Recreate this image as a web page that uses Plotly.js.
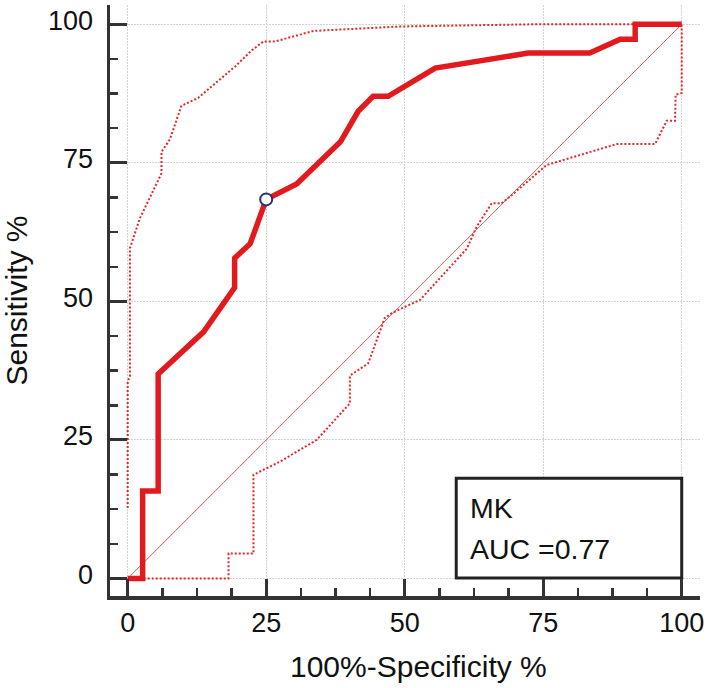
<!DOCTYPE html>
<html>
<head>
<meta charset="utf-8">
<script src="https://cdn.plot.ly/plotly-3.0.1.min.js"></script>
<style>
  html, body { margin: 0; padding: 0; background: #ffffff; }
  #chart { width: 712px; height: 688px; }
</style>
</head>
<body>
<div id="chart"></div>
<script>
// ROC curve (100 - specificity %, sensitivity %)
const rocX = [0, 2.7, 2.7, 5.5, 5.5, 13.7, 19.3, 19.3, 22.1, 25.0, 30.5, 38.4, 41.6, 44.3, 47.0, 55.5, 72.3, 83.4, 88.9, 91.6, 91.6, 100];
const rocY = [0, 0, 15.8, 15.8, 36.9, 44.5, 52.5, 57.8, 60.4, 68.4, 71.2, 78.8, 84.3, 87.0, 87.0, 92.1, 94.8, 94.8, 97.3, 97.3, 100, 100];

// Upper 95% confidence bound
const upperX = [0, 0, 0.4, 0.4, 2.2, 6.1, 6.1, 7.6, 9.7, 12.7, 19.4, 22.4, 24.5, 26.6, 33.5, 49.2, 73.2, 100];
const upperY = [12.7, 35.5, 36.5, 59.6, 65.0, 73.1, 77.0, 79.2, 85.3, 86.7, 92.4, 95.3, 96.9, 96.9, 98.8, 99.6, 100, 100];

// Lower 95% confidence bound
const lowerX = [0, 18.2, 18.2, 22.7, 22.7, 27.5, 34.1, 40.1, 40.1, 43.4, 46.4, 47.7, 52.8, 61.2, 63.0, 65.7, 67.5, 69.0, 75.6, 88.3, 95.2, 97.3, 98.8, 98.9, 100, 100];
const lowerY = [0, 0, 4.5, 4.5, 18.7, 21.1, 25.0, 31.6, 36.6, 38.8, 47.0, 47.9, 50.3, 59.5, 63.5, 67.7, 67.7, 68.9, 74.6, 78.4, 78.4, 82.6, 82.6, 87.3, 87.6, 100];

// Chance diagonal
const diagX = [0, 100];
const diagY = [0, 100];

// Optimal cut-off point
const cutX = [25.0];
const cutY = [68.4];

// Tick values
const tickVals = [0, 25, 50, 75, 100];
const tickText = ["0", "25", "50", "75", "100"];

// Legend box text
const boxLines = ["MK", "AUC =0.77"];

const FONT = "Liberation Sans, Arial, Helvetica, sans-serif";

const traces = [
  { x: diagX, y: diagY, mode: "lines", line: { color: "rgb(205,100,96)", width: 1 }, hoverinfo: "skip" },
  { x: upperX, y: upperY, mode: "lines", line: { color: "rgb(228,40,40)", width: 2, dash: "2px,2px" } },
  { x: lowerX, y: lowerY, mode: "lines", line: { color: "rgb(228,40,40)", width: 2, dash: "2px,2px" } },
  { x: rocX, y: rocY, mode: "lines", line: { color: "rgb(226,26,30)", width: 5.5 } },
  { x: cutX, y: cutY, mode: "markers",
    marker: { symbol: "circle", size: 12, color: "#ffffff", line: { color: "rgb(40,48,120)", width: 2 } } }
];

const axisCommon = {
  tickmode: "array",
  tickvals: tickVals,
  ticktext: tickText,
  ticks: "inside",
  ticklen: 17,
  tickwidth: 3,
  tickcolor: "#333333",
  showline: true,
  linewidth: 3.5,
  linecolor: "#333333",
  showgrid: true,
  gridcolor: "#d2d2d2",
  griddash: "2px,1px",
  gridwidth: 1,
  zeroline: false,
  tickfont: { family: FONT, size: 27, color: "#111111" },
  minor: { tickmode: "linear", tick0: 0, dtick: 6.25, ticks: "inside", ticklen: 8, tickwidth: 2.5, tickcolor: "#333333", showgrid: false },
  fixedrange: true
};

const layout = {
  width: 712,
  height: 688,
  margin: { l: 110, r: 12, t: 5, b: 92 },
  paper_bgcolor: "#ffffff",
  plot_bgcolor: "#ffffff",
  showlegend: false,
  font: { family: FONT, color: "#111111" },
  xaxis: Object.assign({}, axisCommon, {
    range: [-3.195, 103.3],
    ticklabelstandoff: 6.25
  }),
  yaxis: Object.assign({}, axisCommon, {
    range: [-3.16, 103.48],
    ticklabelstandoff: 8,
    ticklabelshift: -4,
    title: { text: "Sensitivity %", font: { family: FONT, size: 30, color: "#111111" }, standoff: 13 }
  }),
  shapes: [
    { type: "rect", xref: "x", yref: "y", x0: 59.3, x1: 100, y0: 0.1, y1: 18.1,
      line: { color: "#222222", width: 3 }, fillcolor: "#ffffff", layer: "between" }
  ],
  annotations: [
    { text: boxLines[0], xref: "x", yref: "y", x: 61.4, y: 12.8, xanchor: "left", yanchor: "middle",
      showarrow: false, font: { family: FONT, size: 28.5, color: "#111111" } },
    { text: boxLines[1], xref: "x", yref: "y", x: 61.4, y: 5.4, xanchor: "left", yanchor: "middle",
      showarrow: false, font: { family: FONT, size: 28.5, color: "#111111" } },
    { text: "100%-Specificity %", xref: "paper", yref: "paper", x: (418 - 110) / 590, y: -(666 - 596) / 591,
      xanchor: "center", yanchor: "middle", showarrow: false,
      font: { family: FONT, size: 30, color: "#111111" } }
  ]
};

Plotly.newPlot("chart", traces, layout, { staticPlot: true, displayModeBar: false });
</script>
</body>
</html>
